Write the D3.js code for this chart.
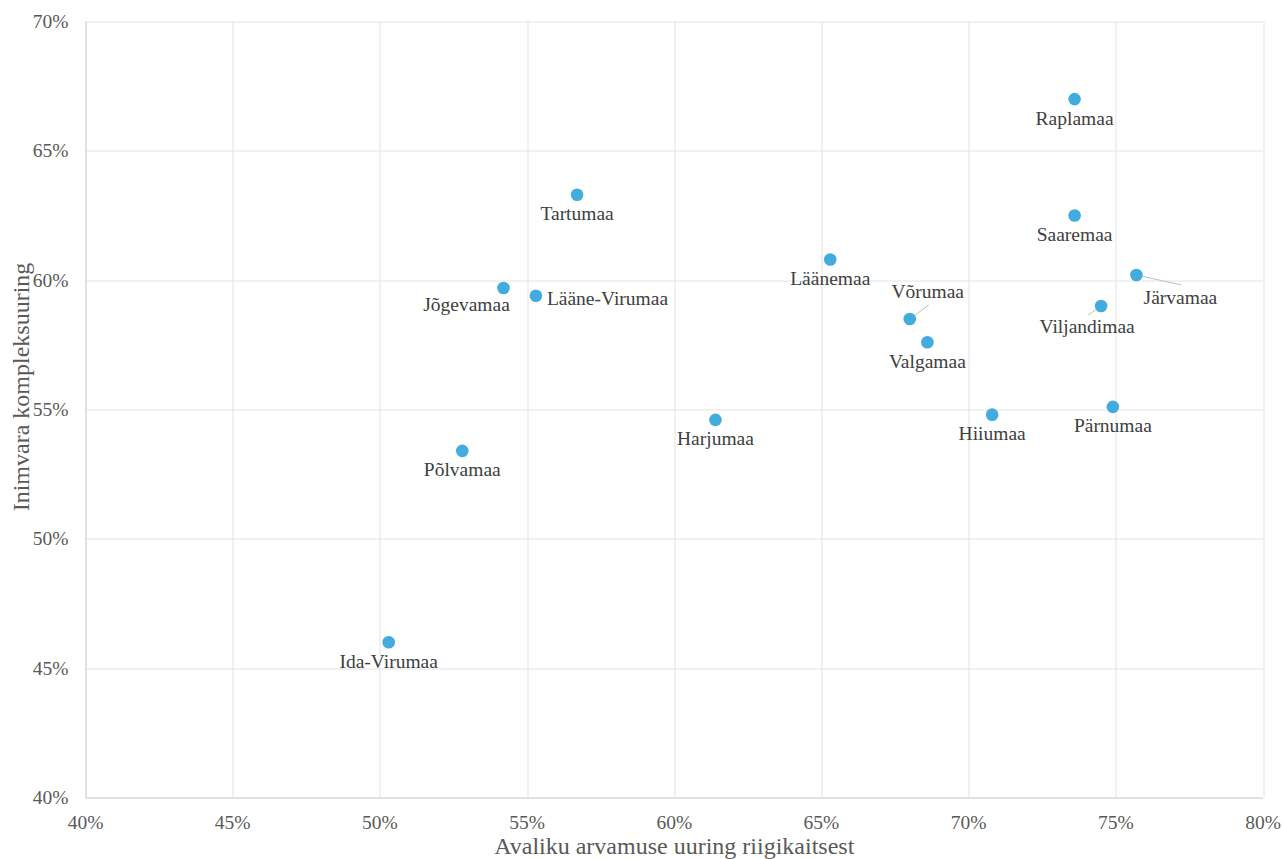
<!DOCTYPE html>
<html>
<head>
<meta charset="utf-8">
<script src="https://cdn.jsdelivr.net/npm/d3@7"></script>
<style>
  html, body { margin: 0; padding: 0; background: #fff; }
  svg { display: block; font-family: "Liberation Serif", "Times New Roman", serif; }
</style>
</head>
<body>
<svg id="chart" width="1283" height="859"></svg>
<script>
// County names and their two survey results (in %)
var counties = ["Raplamaa", "Tartumaa", "Saaremaa", "Läänemaa", "Järvamaa", "Jõgevamaa",
  "Lääne-Virumaa", "Viljandimaa", "Võrumaa", "Valgamaa", "Harjumaa", "Hiiumaa",
  "Pärnumaa", "Põlvamaa", "Ida-Virumaa"];
var defenceSurvey = [73.6, 56.7, 73.6, 65.3, 75.7, 54.2, 55.3, 74.5, 68.0, 68.6, 61.4, 70.8, 74.9, 52.8, 50.3];
var humanCapital  = [67.0, 63.3, 62.5, 60.8, 60.2, 59.7, 59.4, 59.0, 58.5, 57.6, 54.6, 54.8, 55.1, 53.4, 46.0];

var xTicks = [40, 45, 50, 55, 60, 65, 70, 75, 80];
var yTicks = [40, 45, 50, 55, 60, 65, 70];

// label placement tweaks (pixels from the dot); default is centred below
var labelPlace = {
  "Järvamaa":      { dx: 44,  dy: 29,  anchor: "middle", leader: [45, 10] },
  "Viljandimaa":   { dx: -14, dy: 27,  anchor: "middle", leader: [-13, 9] },
  "Võrumaa":       { dx: 18,  dy: -21, anchor: "middle", leader: [19, -14] },
  "Jõgevamaa":     { dx: -37, dy: 23,  anchor: "middle" },
  "Lääne-Virumaa": { dx: 11,  dy: 9,   anchor: "start" }
};

var svg = d3.select("#chart");
var margin = { left: 85.5, top: 21.5, right: 1283 - 1263, bottom: 859 - 797.5 };
var width = 1283 - margin.left - margin.right;
var height = 859 - margin.top - margin.bottom;

var x = d3.scaleLinear().domain([40, 80]).range([0, width]);
var y = d3.scaleLinear().domain([40, 70]).range([height, 0]);

var g = svg.append("g").attr("transform", "translate(" + margin.left + "," + margin.top + ")");

// grid
g.append("g").selectAll("line").data(xTicks).enter().append("line")
  .attr("x1", function (d) { return Math.round(x(d)) + 0.5; })
  .attr("x2", function (d) { return Math.round(x(d)) + 0.5; })
  .attr("y1", 0).attr("y2", height)
  .attr("stroke", "#e3e3e3").attr("stroke-width", 1);

g.append("g").selectAll("line").data(yTicks).enter().append("line")
  .attr("y1", function (d) { return Math.round(y(d)) + 0.5; })
  .attr("y2", function (d) { return Math.round(y(d)) + 0.5; })
  .attr("x1", 0).attr("x2", width)
  .attr("stroke", "#e3e3e3").attr("stroke-width", 1);

// axis base lines
g.append("line").attr("x1", 0).attr("x2", width)
  .attr("y1", Math.round(height) + 0.5).attr("y2", Math.round(height) + 0.5)
  .attr("stroke", "#d0d0d0");
g.append("line").attr("x1", 0.5).attr("x2", 0.5).attr("y1", 0).attr("y2", height)
  .attr("stroke", "#d0d0d0");

// tick labels
g.append("g").selectAll("text").data(xTicks).enter().append("text")
  .attr("x", function (d) { return x(d); })
  .attr("y", height + 31)
  .attr("text-anchor", "middle")
  .attr("font-size", 19.5).attr("fill", "#595959")
  .text(function (d) { return d + "%"; });

g.append("g").selectAll("text").data(yTicks).enter().append("text")
  .attr("x", -17)
  .attr("y", function (d) { return y(d) + 6.5; })
  .attr("text-anchor", "end")
  .attr("font-size", 19.5).attr("fill", "#595959")
  .text(function (d) { return d + "%"; });

// axis titles
svg.append("text")
  .attr("x", margin.left + width / 2).attr("y", 854)
  .attr("text-anchor", "middle").attr("font-size", 24).attr("fill", "#595959")
  .text("Avaliku arvamuse uuring riigikaitsest");

// the y title sits a bit above the plot's middle in the original
svg.append("text")
  .attr("transform", "translate(29,387) rotate(-90)")
  .attr("text-anchor", "middle").attr("font-size", 24).attr("fill", "#595959")
  .text("Inimvara kompleksuuring");

var points = counties.map(function (name, i) {
  return { name: name, xv: defenceSurvey[i], yv: humanCapital[i] };
});

// leader lines
g.append("g").selectAll("line")
  .data(points.filter(function (d) { return labelPlace[d.name] && labelPlace[d.name].leader; }))
  .enter().append("line")
  .attr("x1", function (d) { return x(d.xv); })
  .attr("y1", function (d) { return y(d.yv); })
  .attr("x2", function (d) { return x(d.xv) + labelPlace[d.name].leader[0]; })
  .attr("y2", function (d) { return y(d.yv) + labelPlace[d.name].leader[1]; })
  .attr("stroke", "#bfbfbf").attr("stroke-width", 1);

// dots
g.append("g").selectAll("circle").data(points).enter().append("circle")
  .attr("cx", function (d) { return x(d.xv); })
  .attr("cy", function (d) { return y(d.yv); })
  .attr("r", 6.3)
  .attr("fill", "#41acdd");

// labels
g.append("g").selectAll("text").data(points).enter().append("text")
  .attr("x", function (d) {
    var p = labelPlace[d.name];
    return x(d.xv) + (p ? p.dx : 0);
  })
  .attr("y", function (d) {
    var p = labelPlace[d.name];
    return y(d.yv) + (p ? p.dy : 25.5);
  })
  .attr("text-anchor", function (d) {
    var p = labelPlace[d.name];
    return p ? p.anchor : "middle";
  })
  .attr("font-size", 19.5).attr("fill", "#404040")
  .text(function (d) { return d.name; });
</script>
</body>
</html>
